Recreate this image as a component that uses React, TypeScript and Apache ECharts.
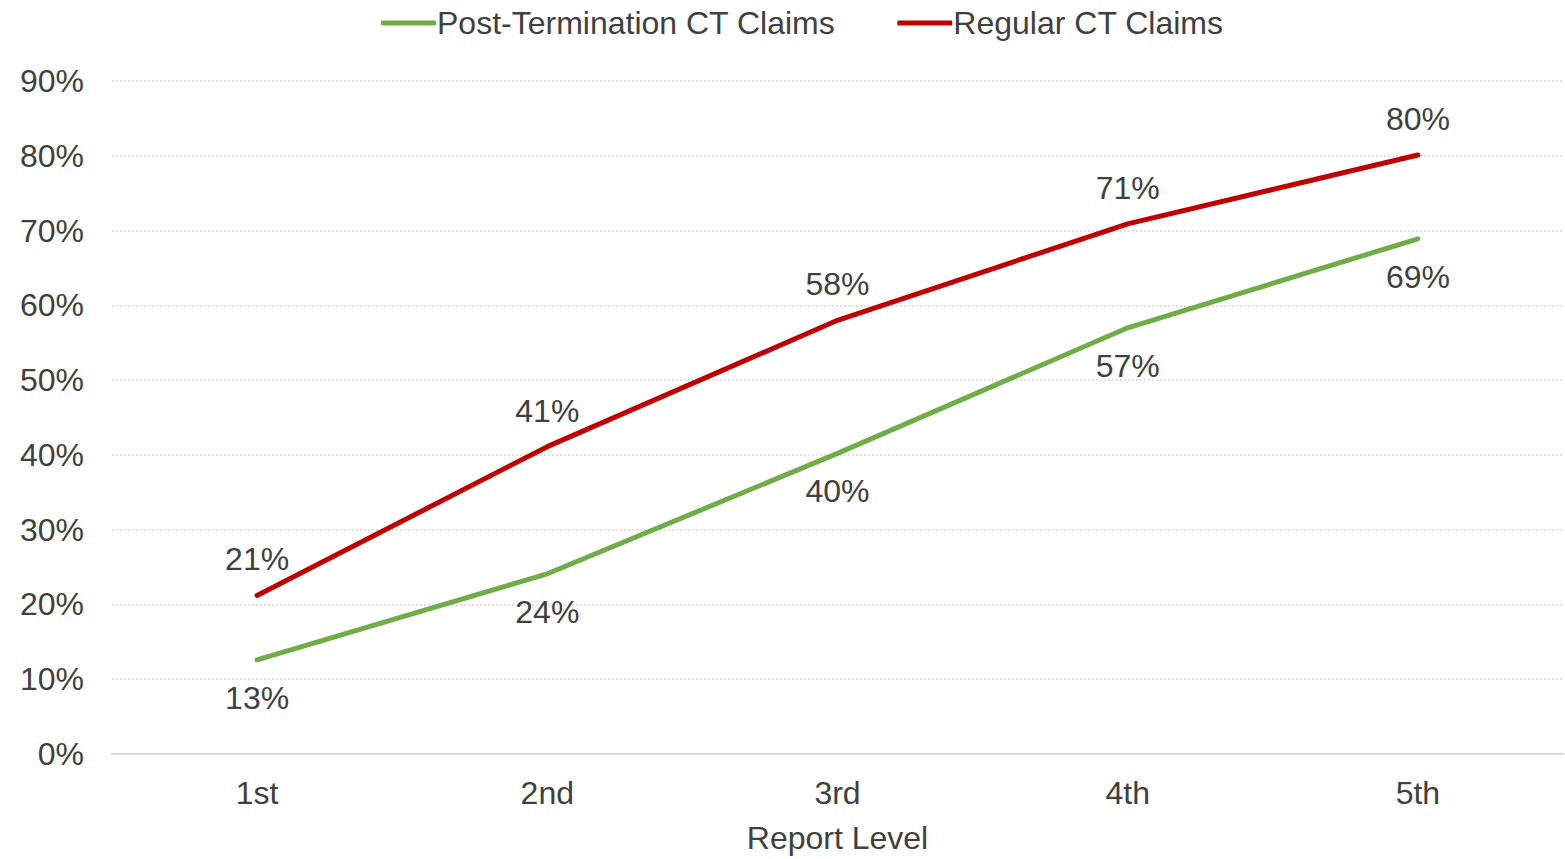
import React, { useEffect, useRef } from "react";
import * as echarts from "echarts";

const categories = ["1st", "2nd", "3rd", "4th", "5th"];
const postTermination = [12.6, 24.1, 40.2, 57.0, 68.9];
const regular = [21.2, 41.1, 58.0, 70.9, 80.1];
const seriesNames = ["Post-Termination CT Claims", "Regular CT Claims"];

const FONT = "'Liberation Sans', Arial, sans-serif";
const TXT = "#404040";
const FS = 32;

export default function App() {
  const ref = useRef<HTMLDivElement>(null);
  useEffect(() => {
    const chart = echarts.init(ref.current!, null, { renderer: "svg" });
    chart.setOption({
      animation: false,
      textStyle: { fontFamily: FONT },
      legend: {
        top: 2,
        left: 376,
        itemWidth: 55,
        itemHeight: 5,
        itemGap: 62,
        icon: "roundRect",
        textStyle: { fontSize: FS, color: TXT, fontFamily: FONT, padding: [0, 0, 0, -4] },
        data: seriesNames,
      },
      grid: { left: 112, right: 2, top: 81, bottom: 98, containLabel: false },
      xAxis: {
        type: "category",
        data: categories,
        name: "Report Level",
        nameLocation: "middle",
        nameGap: 68,
        nameTextStyle: { fontSize: FS, color: TXT, fontFamily: FONT },
        axisLine: { lineStyle: { color: "#d9d9d9", width: 2 } },
        axisTick: { show: false },
        axisLabel: { fontSize: FS, color: TXT, margin: 23, fontFamily: FONT },
      },
      yAxis: {
        type: "value",
        min: 0,
        max: 90,
        interval: 10,
        axisLine: { show: false },
        axisTick: { show: false },
        axisLabel: { fontSize: FS, color: TXT, margin: 28, formatter: (v: number) => v + "%", fontFamily: FONT },
        splitLine: { lineStyle: { color: "#d9d9d9", type: [2, 2], width: 1.5 } },
      },
      series: [
        {
          name: seriesNames[0],
          type: "line",
          data: postTermination,
          symbol: "circle",
          symbolSize: 0,
          showSymbol: true,
          lineStyle: { color: "#70AD47", width: 5, cap: "round", join: "round" },
          itemStyle: { color: "#70AD47" },
          label: {
            show: true,
            position: "bottom",
            distance: 22,
            fontSize: FS,
            color: TXT,
            fontFamily: FONT,
            formatter: (p: any) => Math.round(p.value) + "%",
          },
        },
        {
          name: seriesNames[1],
          type: "line",
          data: regular,
          symbol: "circle",
          symbolSize: 0,
          showSymbol: true,
          lineStyle: { color: "#C00000", width: 5, cap: "round", join: "round" },
          itemStyle: { color: "#C00000" },
          label: {
            show: true,
            position: "top",
            distance: 20,
            fontSize: FS,
            color: TXT,
            fontFamily: FONT,
            formatter: (p: any) => Math.round(p.value) + "%",
          },
        },
      ],
    });
    return () => chart.dispose();
  }, []);
  return <div ref={ref} style={{ width: 1565, height: 859, position: "absolute", left: 0, top: 0 }} />;
}
